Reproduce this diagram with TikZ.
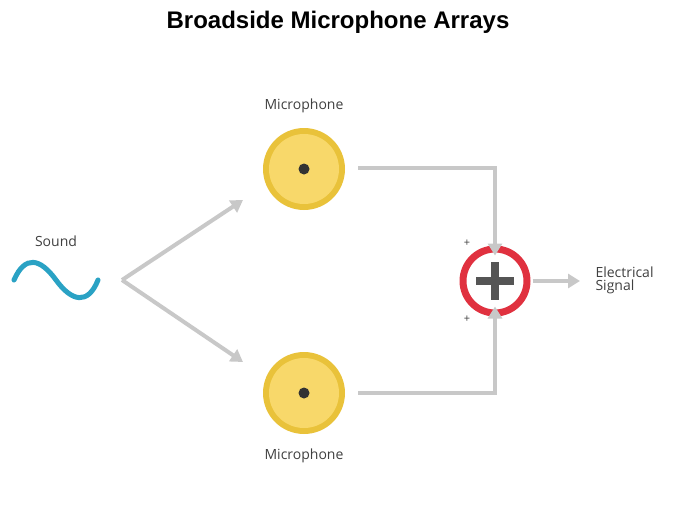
\documentclass[tikz,border=0pt]{standalone}
\usepackage{fontspec}
\setmainfont{Open Sans}
\newfontfamily\titlefont{Liberation Sans}
\usetikzlibrary{arrows.meta}
\definecolor{ln}{HTML}{C8C8C8}
\definecolor{yo}{HTML}{E9C23A}
\definecolor{yi}{HTML}{F8D86A}
\definecolor{rd}{HTML}{E0313F}
\definecolor{dk}{HTML}{555555}
\definecolor{wv}{HTML}{2AA2C4}
\definecolor{tx}{HTML}{404040}
\begin{document}
\begin{tikzpicture}[x=1pt,y=-1pt,
  conn/.style={draw=ln,line width=4pt,-{Triangle[length=12pt,width=14pt]}},
  lab/.style={text=tx,font=\fontsize{14}{16}\selectfont}]
\useasboundingbox (0,0) rectangle (675,506);
\node[font=\titlefont\bfseries\fontsize{24}{28}\selectfont] (title) at (338,22) {Broadside Microphone Arrays};
% microphones
\foreach \n/\y in {m1/169,m2/393}{
  \fill[yo] (304,\y) circle (41);
  \fill[yi] (304,\y) circle (35);
  \fill[black!80] (304,\y) circle (5.5);
  \coordinate (\n) at (304,\y);
}
\node[lab] (l1) at (304,106) {Microphone};
\node[lab] (l2) at (304,456) {Microphone};
% sound
\node[lab] (sl) at (56,241) {Sound};
\draw[wv,line width=5pt,line cap=round] (14,280) .. controls (25,255) and (40,258) .. (56,280) .. controls (72,302) and (88,305) .. (98,280);
\coordinate (src) at (122,280);
\coordinate (t1) at (243,200);
\coordinate (t2) at (243,362);
\draw[conn] (src) -- (t1);
\draw[conn] (src) -- (t2);
% sum
\node[circle,draw=rd,line width=7pt,fill=white,minimum size=64pt] (sum) at (495,281) {};
\draw[dk,line width=8pt] (476,281) -- (514,281) (495,262) -- (495,300);
\node[font=\fontsize{11}{12}\selectfont,text=tx] (p1) at (467,243) {+};
\node[font=\fontsize{11}{12}\selectfont,text=tx] (p2) at (467,319) {+};
\coordinate (a1) at (358,168);
\coordinate (a2) at (358,393);
\draw[conn] (a1) -| ([yshift=-10pt]sum.north);
\draw[conn] (a2) -| ([yshift=10pt]sum.south);
\coordinate (out) at (580,281);
\draw[conn] ([xshift=2pt]sum.east) -- (out);
\node[lab,align=left,anchor=west] (es) at (592,280) {Electrical\\[-3pt]Signal};
\end{tikzpicture}
\end{document}
